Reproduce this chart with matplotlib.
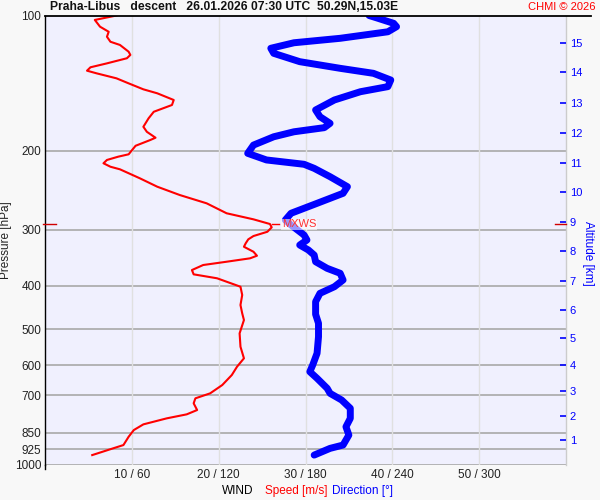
import matplotlib
matplotlib.use('Agg')
import numpy as np
from matplotlib import pyplot as plt
from matplotlib.lines import Line2D
import matplotlib.transforms as mtransforms

plt.rcParams['font.family'] = ['Liberation Sans', 'DejaVu Sans']

#   wind speed profile (red) - pressure [hPa] / speed [m/s]
speed_p = [100.0, 102.3, 105.9, 108.7, 111.5, 114.4, 116.3, 120.4, 122.4, 124.5,
           127.8, 130.4, 132.7, 134.5, 138.0, 141.6, 146.0, 149.0, 154.2, 158.2,
           163.8, 169.4, 176.9, 181.5, 187.1, 189.3, 195.0, 199.3, 203.7, 206.2,
           209.7, 213.3, 217.1, 220.0, 230.4, 240.5, 251.0, 261.9, 275.6, 284.3,
           291.2, 296.2, 303.0, 309.7, 315.0, 321.5, 327.2, 335.7, 342.6, 347.2,
           353.3, 359.3, 368.7, 376.9, 384.6, 401.6, 419.0, 441.1, 460.3, 476.4,
           510.0, 546.2, 579.7, 605.2, 631.5, 664.7, 693.7, 711.6, 730.1, 755.6,
           772.5, 788.5, 813.2, 837.2, 866.6, 904.2, 919.7, 951.9]
speed = [8.2, 5.7, 6.3, 7.3, 7.1, 7.5, 8.6, 9.6, 9.8, 9.4,
         7.1, 5.2, 4.8, 5.9, 8.2, 9.6, 11.3, 12.9, 14.8, 14.6,
         12.5, 11.9, 11.3, 11.7, 12.7, 12.1, 10.4, 10.0, 9.6, 8.4,
         7.1, 6.7, 7.5, 8.6, 10.9, 12.9, 15.5, 18.6, 20.9, 24.0,
         25.9, 26.1, 25.6, 24.0, 23.4, 23.1, 22.9, 24.0, 24.4, 23.6,
         20.9, 18.2, 16.9, 17.1, 19.8, 22.5, 22.7, 22.5, 22.7, 22.9,
         22.4, 22.5, 22.9, 22.1, 21.5, 20.4, 19.0, 17.3, 17.1, 17.5,
         16.3, 14.0, 11.3, 10.2, 9.6, 9.0, 7.8, 5.4]

#   wind direction profile (blue) - pressure [hPa] / direction [deg]
dir_p = [100.0, 101.4, 104.1, 105.9, 108.7, 112.4, 115.0, 118.3, 121.4, 126.7,
         131.1, 134.5, 139.2, 144.0, 147.8, 154.2, 162.3, 168.0, 173.8, 177.7,
         181.5, 186.2, 194.3, 202.7, 209.7, 214.4, 218.9, 228.5, 240.5, 248.8,
         261.9, 275.6, 285.3, 292.7, 308.1, 316.1, 324.3, 332.7, 341.4, 353.3,
         365.5, 374.9, 388.0, 401.6, 415.5, 433.6, 462.6, 484.5, 518.9, 564.9,
         599.8, 620.9, 642.3, 676.1, 693.7, 717.8, 748.9, 788.6, 823.3, 859.1,
         904.2, 919.7, 951.9]
direction = [224, 230, 241, 243, 237, 204, 172, 156, 158, 176,
             204, 227, 239, 237, 218, 200, 187, 190, 197, 193,
             172, 158, 144, 140, 153, 179, 186, 197, 209, 206,
             188, 170, 166, 170, 179, 181, 176, 182, 186, 187,
             195, 204, 206, 200, 190, 187, 187, 189, 189, 188,
             185, 183, 188, 195, 197, 205, 211, 211, 208, 210,
             206, 197, 186]

#   altitude scale on the right
alt_km = [1, 2, 3, 4, 5, 6, 7, 8, 9, 10, 11, 12, 13, 14, 15]
alt_p = [881.7, 779.6, 685.6, 600.1, 522.6, 452.5, 390.0, 334.4, 288.2,
         247.2, 212.7, 182.7, 156.6, 133.8, 115.3]

p_ticks = [100, 200, 300, 400, 500, 600, 700, 850, 925, 1000]
x_ticks = [10, 20, 30, 40, 50]
x_labels = ['10 / 60', '20 / 120', '30 / 180', '40 / 240', '50 / 300']

title = 'Praha-Libus   descent   26.01.2026 07:30 UTC  50.29N,15.03E'

W, H = 600, 500
fig = plt.figure(figsize=(6, 5), dpi=100, facecolor='#f8f8f8')
L, R, T, B = 45.4, 565.6, 15.5, 464.7
ax = fig.add_axes([L / W, 1 - B / H, (R - L) / W, (B - T) / H])
ax.set_facecolor('#f0f0fe')

ax.set_yscale('log')
ax.set_ylim(1000, 100)
ax.set_xlim(0, 60)
ax.minorticks_off()
ax.set_yticks(p_ticks)
ax.set_yticklabels([str(p) for p in p_ticks], fontsize=8.5, color='#222222')
ax.set_xticks(x_ticks)
ax.set_xticklabels(x_labels, fontsize=8.5, color='#222222')
ax.tick_params(axis='both', length=0, pad=3)

for p in p_ticks[1:]:
    ax.axhline(p, color='#a8a8a8', lw=1.2, zorder=1)
for x in x_ticks:
    ax.axvline(x, color='#e0e0e0', lw=1.0, zorder=1)

for s in ['top', 'bottom']:
    ax.spines[s].set_visible(False)
ax.spines['left'].set_color('black')
ax.spines['left'].set_linewidth(1.0)
ax.spines['right'].set_color('#cccccc')
ax.spines['right'].set_linewidth(1.0)

# direction mapped onto speed axis (60 deg per 10 m/s)
dir_x = np.array(direction) / 6.0
ax.plot(dir_x, dir_p, color='blue', lw=5, solid_capstyle='round',
        solid_joinstyle='round', zorder=3)
ax.plot(speed, speed_p, color='red', lw=1.5, solid_joinstyle='round', zorder=4)

# max wind marker
i = int(np.argmax(speed))
mx, mp = speed[i], speed_p[i] * 0.985
ax.plot([mx, mx + 0.9], [mp, mp], color='red', lw=1, zorder=5)
ax.text(mx + 1.2, mp, 'MXWS', color='#ff3030', fontsize=8, va='center', ha='left',
        zorder=6, bbox=dict(facecolor='white', edgecolor='none', alpha=0.6, pad=0.5))
tr = mtransforms.blended_transform_factory(ax.transAxes, ax.transData)
ax.plot([-0.004, 0.02], [mp, mp], color='#d00000', lw=1, transform=tr, clip_on=False, zorder=6)
ax.plot([0.98, 1.0], [mp, mp], color='#d00000', lw=1, transform=tr, clip_on=False, zorder=6)

ax.set_ylabel('Pressure [hPa]', fontsize=8.5, color='#222222', labelpad=2)

# altitude axis
ax2 = ax.twinx()
ax2.set_yscale('log')
ax2.set_ylim(1000, 100)
ax2.minorticks_off()
ax2.set_yticks(alt_p)
ax2.set_yticklabels([str(a) for a in alt_km], fontsize=8, color='blue')
ax2.tick_params(axis='y', direction='in', length=4.5, width=1.2, color='blue', pad=3)
for s in ax2.spines.values():
    s.set_visible(False)
fig.text(588 / W, 1 - 253 / H, 'Altitude [km]', rotation=-90, color='blue',
         fontsize=8.5, ha='center', va='center')

# top border line and left axis extension
fig.add_artist(Line2D([L / W, 591 / W], [1 - T / H, 1 - T / H], color='black', lw=1.3))
fig.add_artist(Line2D([L / W, L / W], [1 - B / H, 1 - 469 / H], color='black', lw=1.0))

fig.text(50 / W, 1 - 7.5 / H, title, fontsize=8.7, fontweight='bold', color='#111111',
         ha='left', va='center')
fig.text(596 / W, 1 - 7.5 / H, 'CHMI © 2026', fontsize=8, color='red',
         ha='right', va='center')

# bottom axis caption
fig.text(253 / W, 1 - 491 / H, 'WIND', fontsize=8.5, color='black', ha='right', va='center')
fig.text(265 / W, 1 - 491 / H, 'Speed [m/s]', fontsize=8.5, color='red', ha='left', va='center')
fig.text(332 / W, 1 - 491 / H, 'Direction [°]', fontsize=8.5, color='blue', ha='left', va='center')

fig.savefig('out.png', dpi=100, facecolor=fig.get_facecolor())
